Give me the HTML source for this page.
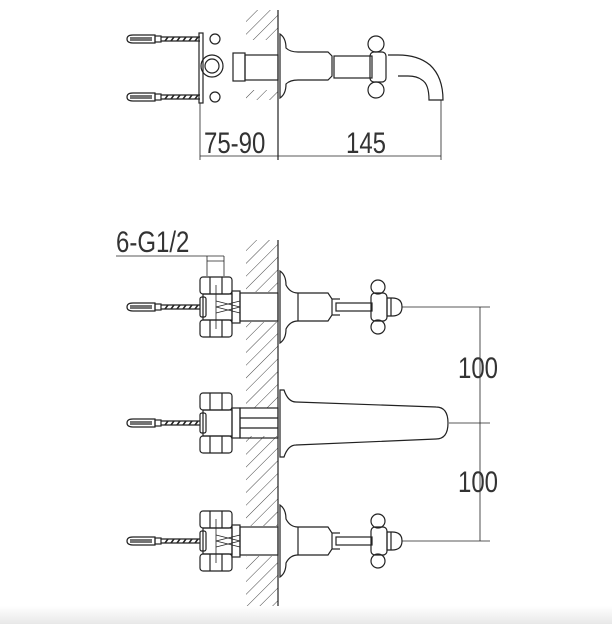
<!DOCTYPE html>
<html><head><meta charset="utf-8"><style>
html,body{margin:0;padding:0;background:#fff}
svg{display:block}
text{font-family:"Liberation Sans",sans-serif;fill:#333;font-size:30px}
</style></head><body>
<svg width="612" height="624" viewBox="0 0 612 624" xmlns="http://www.w3.org/2000/svg">
<defs>
<pattern id="h" width="9" height="9" patternUnits="userSpaceOnUse" patternTransform="rotate(45)">
<line x1="0" y1="0" x2="0" y2="9" stroke="#333" stroke-width="0.9"/>
</pattern>
<linearGradient id="g" x1="0" y1="0" x2="0" y2="1"><stop offset="0" stop-color="#fff"/><stop offset="1" stop-color="#e8e8e8"/></linearGradient>
<g id="anchor" fill="none" stroke="#222" stroke-width="1.2">
<path d="M127,0 q0,-4 6,-4 h22 v8 h-22 q-6,0 -6,-4z"/>
<line x1="130" y1="-1" x2="152" y2="-1"/><line x1="130" y1="1" x2="152" y2="1"/>
<rect x="155" y="-3" width="6" height="6"/>
<line x1="161" y1="-2" x2="200" y2="-2"/><line x1="161" y1="2" x2="200" y2="2"/>
<path d="M165,2 l3,-4 M171,2 l3,-4 M177,2 l3,-4 M183,2 l3,-4 M189,2 l3,-4 M195,2 l3,-4" stroke-width="1.5"/>
</g>
<g id="valve" fill="none" stroke="#222" stroke-width="1.2">
<rect x="200" y="-30" width="32" height="17" rx="3"/>
<rect x="200" y="13" width="32" height="17" rx="3"/>
<line x1="210" y1="-30" x2="210" y2="-13"/><line x1="222" y1="-30" x2="222" y2="-13"/>
<line x1="210" y1="13" x2="210" y2="30"/><line x1="222" y1="13" x2="222" y2="30"/>
<rect x="203" y="-13" width="29" height="26"/>
<rect x="200" y="-10" width="6" height="20" rx="2"/>
</g>
<g id="handle" fill="none" stroke="#222" stroke-width="1.2">
<rect x="232" y="-16" width="8" height="32"/>
<rect x="240" y="-14" width="38" height="28"/>
<path d="M240,-6 l-24,6 l24,6 M216,-6 l24,6 -24,6" stroke-width="0.8"/>
<line x1="216" y1="-22" x2="216" y2="22" stroke-width="0.8"/>
<path d="M280,-36 q6,4 6,14 q4,8 12,8 h30 l4,6 v16 l-4,6 h-30 q-8,0 -12,8 q0,10 -6,14 z"/>
<line x1="298" y1="-14" x2="298" y2="14"/>
<line x1="332" y1="-8" x2="340" y2="-8"/><line x1="332" y1="8" x2="340" y2="8"/>
<rect x="336" y="-4" width="36" height="8"/>
<circle cx="378" cy="-20" r="7"/><circle cx="378" cy="20" r="7"/>
<rect x="371" y="-14" width="16" height="28" rx="4"/>
<path d="M387,-9 h5 q10,0 10,9 q0,9 -10,9 h-5z"/>
<line x1="391" y1="-9" x2="391" y2="9"/>
</g>
</defs>
<rect x="0" y="606" width="612" height="18" fill="url(#g)"/>
<rect x="246" y="10" width="32" height="90" fill="url(#h)"/>
<rect x="246" y="40" width="32" height="50" fill="#fff"/>
<line x1="278" y1="10" x2="278" y2="160" stroke="#222" stroke-width="1.2"/>
<use href="#anchor" y="39"/><use href="#anchor" y="97"/>
<g fill="none" stroke="#222" stroke-width="1.2">
<rect x="199" y="33" width="4" height="70"/>
<circle cx="215" cy="39" r="5"/><circle cx="215" cy="97" r="5"/>
<circle cx="212" cy="66" r="11"/><circle cx="212" cy="66" r="7"/>
<rect x="233" y="53" width="12" height="28"/>
<rect x="245" y="55" width="33" height="25"/>
<path d="M280,34 q6,4 6,14 q4,4 12,4 h30 l4,4 v20 l-4,4 h-30 q-8,0 -12,4 q0,10 -6,14 z"/>
<rect x="334" y="56" width="38" height="22"/>
<circle cx="376" cy="44" r="8"/><circle cx="376" cy="90" r="8"/>
<rect x="370" y="52" width="16" height="30" rx="4"/>
<path d="M388,55 h10 q20,0 32,10 q13,12 13,35 h-14 q0,-16 -7,-20 q-5,-4 -14,-4 h-10"/>
<line x1="200" y1="103" x2="200" y2="160" stroke-width="0.8"/>
<line x1="441" y1="100" x2="441" y2="160" stroke-width="0.8"/>
<line x1="200" y1="156" x2="441" y2="156" stroke-width="0.8"/>
</g>
<text transform="translate(204,153) scale(0.8,1)">75-90</text>
<text transform="translate(346,153) scale(0.8,1)">145</text>
<rect x="246" y="240" width="32" height="366" fill="url(#h)"/>
<rect x="246" y="292" width="32" height="30" fill="#fff"/>
<rect x="246" y="408" width="32" height="28" fill="#fff"/>
<rect x="246" y="526" width="32" height="30" fill="#fff"/>
<line x1="278" y1="240" x2="278" y2="606" stroke="#222" stroke-width="1.2"/>
<text transform="translate(116,252) scale(0.8,1)">6-G1/2</text>
<g stroke="#222" stroke-width="0.8" fill="none">
<line x1="116" y1="256" x2="224" y2="256"/>
<line x1="207" y1="256" x2="207" y2="276"/><line x1="224" y1="256" x2="224" y2="276"/>
<line x1="207" y1="261" x2="224" y2="261"/>
<line x1="402" y1="307" x2="490" y2="307"/>
<line x1="449" y1="423" x2="490" y2="423"/>
<line x1="402" y1="541" x2="490" y2="541"/>
<line x1="480" y1="307" x2="480" y2="541"/>
</g>
<use href="#anchor" y="307"/><use href="#valve" y="307"/><use href="#handle" y="307"/>
<use href="#anchor" y="423"/><use href="#valve" y="423"/>
<use href="#anchor" y="541"/><use href="#valve" y="541"/><use href="#handle" y="541"/>
<g fill="none" stroke="#222" stroke-width="1.2">
<rect x="232" y="408" width="8" height="30"/>
<rect x="240" y="408" width="38" height="30"/>
<line x1="240" y1="418" x2="278" y2="418"/><line x1="240" y1="428" x2="278" y2="428"/>
<path d="M280,390 h4 q4,12 12,12 l140,5 q12,0 12,16 q0,16 -12,16 l-140,6 q-8,0 -12,12 h-4z"/>
</g>
<text transform="translate(458,378) scale(0.8,1)">100</text>
<text transform="translate(458,492) scale(0.8,1)">100</text>
</svg>
</body></html>
